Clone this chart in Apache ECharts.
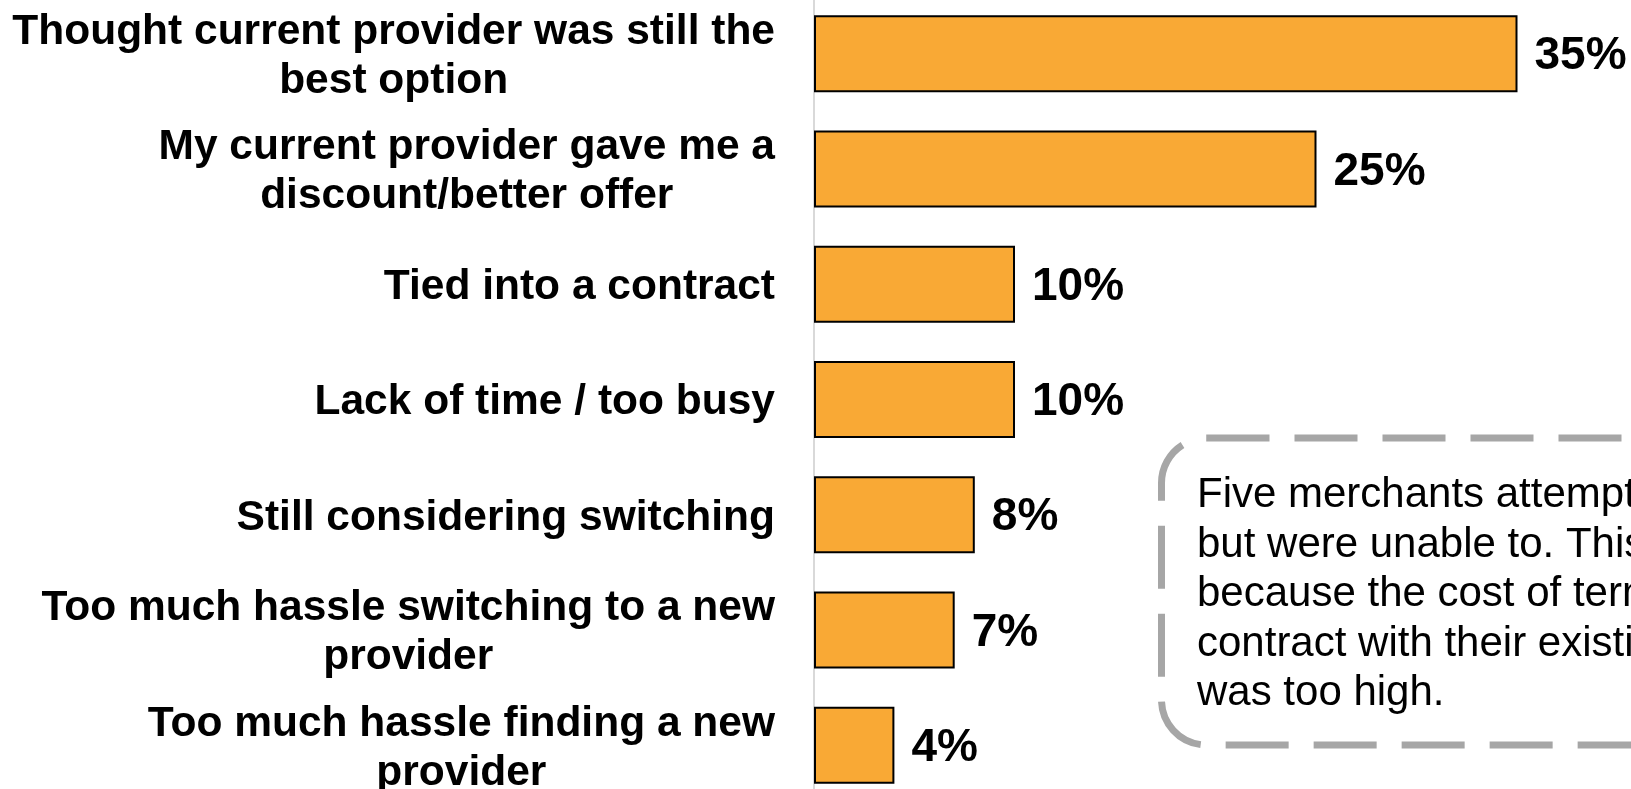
<!DOCTYPE html>
<html>
<head>
<meta charset="utf-8">
<script src="https://cdn.jsdelivr.net/npm/echarts@6/dist/echarts.min.js"></script>
<style>
  html, body { margin: 0; padding: 0; background: #fff; }
  #chart { width: 1631px; height: 789px; }
</style>
</head>
<body>
<div id="chart"></div>
<script>
// Reasons for not switching provider (share of merchants, %)
const categories = [
  'Thought current provider was still the\nbest option',
  'My current provider gave me a\ndiscount/better offer',
  'Tied into a contract',
  'Lack of time / too busy',
  'Still considering switching',
  'Too much hassle switching to a new\nprovider',
  'Too much hassle finding a new\nprovider'
];
const shares = [35, 25, 10, 10, 8, 7, 4];

// Callout note, one entry per line
const noteLines = [
  'Five merchants attempted to switch',
  'but were unable to. This was',
  'because the cost of terminating the',
  'contract with their existing provider',
  'was too high.'
];

const FONT = '"Liberation Sans", Arial, sans-serif';

const chart = echarts.init(document.getElementById('chart'), null, { renderer: 'canvas' });

chart.setOption({
  animation: false,
  backgroundColor: '#ffffff',
  grid: {
    left: 814, right: 13, top: -4, bottom: -14,
    containLabel: false,
    outerBoundsMode: 'none'
  },
  xAxis: {
    type: 'value',
    min: 0,
    max: 40,
    show: false
  },
  yAxis: {
    type: 'category',
    data: categories,
    inverse: true,
    axisLine: { show: true, lineStyle: { color: '#d9d9d9', width: 2 } },
    axisTick: { show: false },
    axisLabel: {
      margin: 39,
      color: '#000',
      fontFamily: FONT,
      fontWeight: 'bold',
      fontSize: 42.5,
      lineHeight: 49,
      align: 'right',
      padding: [6, 0, 0, 0],
      formatter: function (v) {
        return v.split('\n').map(function (l) { return '{c|' + l + '}'; }).join('\n');
      },
      rich: {
        c: {
          align: 'center',
          color: '#000',
          fontFamily: FONT,
          fontWeight: 'bold',
          fontSize: 42.5,
          lineHeight: 49
        }
      }
    },
    splitLine: { show: false }
  },
  series: [{
    type: 'bar',
    data: shares,
    barWidth: 77,
    itemStyle: { color: '#F9A935', borderColor: '#000', borderWidth: 2 },
    label: {
      show: true,
      position: 'right',
      distance: 17,
      offset: [0, 3],
      formatter: '{c}%',
      color: '#000',
      fontFamily: FONT,
      fontWeight: 'bold',
      fontSize: 46
    }
  }],
  graphic: [
    {
      type: 'rect',
      shape: { x: 1161.5, y: 438, width: 700, height: 307, r: 45 },
      style: { fill: '#ffffff', stroke: '#a6a6a6', lineWidth: 7, lineDash: [63, 25] },
      z: 10
    },
    {
      type: 'text',
      x: 1197,
      y: 471,
      style: {
        text: noteLines.join('\n'),
        fontFamily: FONT,
        fontSize: 42,
        lineHeight: 49.5,
        fill: '#000',
        textVerticalAlign: 'top'
      },
      z: 11
    }
  ]
});
</script>
</body>
</html>
